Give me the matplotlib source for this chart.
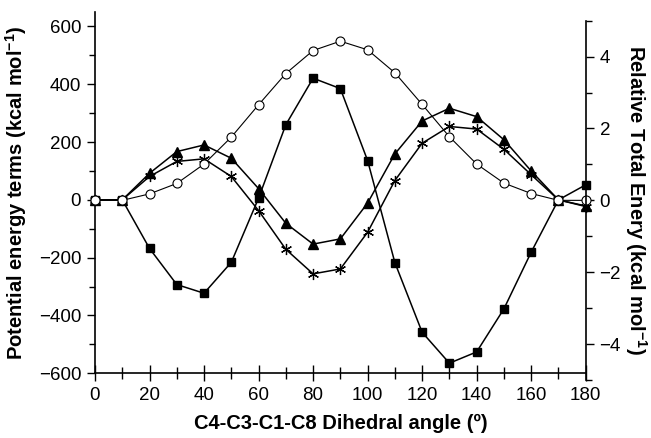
import matplotlib.pyplot as plt
from matplotlib.ticker import MultipleLocator

plt.rcParams['font.family'] = ['Liberation Sans', 'DejaVu Sans']
plt.rcParams['mathtext.fontset'] = 'custom'
plt.rcParams['mathtext.rm'] = 'Liberation Sans'
plt.rcParams['mathtext.bf'] = 'Liberation Sans:bold'

angle = [0, 10, 20, 30, 40, 50, 60, 70, 80, 90, 100, 110, 120, 130, 140, 150, 160, 170, 180]

# potential energy terms (left axis, kcal/mol)
squares = [0, 0, -168, -293, -323, -216, 6, 260, 421, 385, 136, -217, -458, -565, -526, -377, -181, 0, 52]
triangles = [0, 0, 92, 167, 190, 144, 39, -81, -153, -135, -11, 159, 273, 317, 288, 208, 100, 0, -21]
stars = [0, 0, 81, 133, 142, 81, -37, -171, -256, -239, -112, 67, 196, 254, 245, 175, 87, 0, -23]

# relative total energy (right axis, kcal/mol)
total = [0, 0, 0.18, 0.47, 1.01, 1.76, 2.66, 3.53, 4.17, 4.43, 4.19, 3.55, 2.67, 1.77, 1.01, 0.48, 0.19, 0, 0]

W, H = 651, 438
fig = plt.figure(figsize=(W / 100, H / 100), dpi=100)

ax = fig.add_axes([95 / W, 1 - 373.3 / H, 490.7 / W, 361.3 / H])
ax2 = fig.add_axes([95 / W, 1 - 380 / H, 490.7 / W, 359.3 / H], sharex=ax)
ax2.patch.set_visible(False)

kw = dict(color='black', lw=1.1, clip_on=False)
ax.plot(angle, squares, marker='s', ms=5.5, mfc='black', **kw)
ax.plot(angle, triangles, marker='^', ms=7, mfc='black', **kw)
ax.plot(angle, stars, marker=(6, 2, 0), ms=8, mew=0.9, **kw)
ax2.plot(angle, total, marker='o', ms=6.5, mfc='white', mec='black', mew=0.8,
         color='black', lw=0.8, clip_on=False)

ax.set_xlim(0, 180)
ax.set_ylim(-600, 650)
ax2.set_ylim(-5, 5)

for s in ['top', 'right']:
    ax.spines[s].set_visible(False)
for s in ['top', 'left', 'bottom']:
    ax2.spines[s].set_visible(False)
for a in (ax, ax2):
    for s in a.spines.values():
        s.set_linewidth(1.2)

ax.xaxis.set_major_locator(MultipleLocator(20))
ax.xaxis.set_minor_locator(MultipleLocator(10))
ax.set_yticks(range(-600, 601, 200))
ax.yaxis.set_minor_locator(MultipleLocator(100))
ax2.yaxis.set_major_locator(MultipleLocator(2))
ax2.yaxis.set_minor_locator(MultipleLocator(1))

ax.tick_params(axis='x', which='major', direction='inout', length=12, width=1, labelsize=13.5, pad=4)
ax.tick_params(axis='x', which='minor', direction='inout', length=9, width=1)
ax.tick_params(axis='y', which='major', direction='out', length=6, width=1, labelsize=13.5, pad=4)
ax.tick_params(axis='y', which='minor', direction='out', length=4.5, width=1)
ax2.tick_params(axis='x', which='both', bottom=False, labelbottom=False)
ax2.tick_params(axis='y', which='both', left=False, labelleft=False, right=True, labelright=True)
ax2.tick_params(axis='y', which='major', direction='out', length=6, width=1, labelsize=13.5, pad=4)
ax2.tick_params(axis='y', which='minor', direction='out', length=4.5, width=1)

ax.set_xlabel('C4-C3-C1-C8 Dihedral angle (º)', fontsize=14.5, fontweight='bold', labelpad=7)
ax.set_ylabel('Potential energy terms (kcal mol$^{\\mathbf{-1}}$)', fontsize=14.5, fontweight='bold', labelpad=7)
ax2.yaxis.set_label_position('right')
ax2.set_ylabel('Relative Total Enery (kcal mol$^{\\mathbf{-1}}$)', fontsize=14.5, fontweight='bold',
               rotation=270, labelpad=20)

fig.savefig('out.png', dpi=100)
